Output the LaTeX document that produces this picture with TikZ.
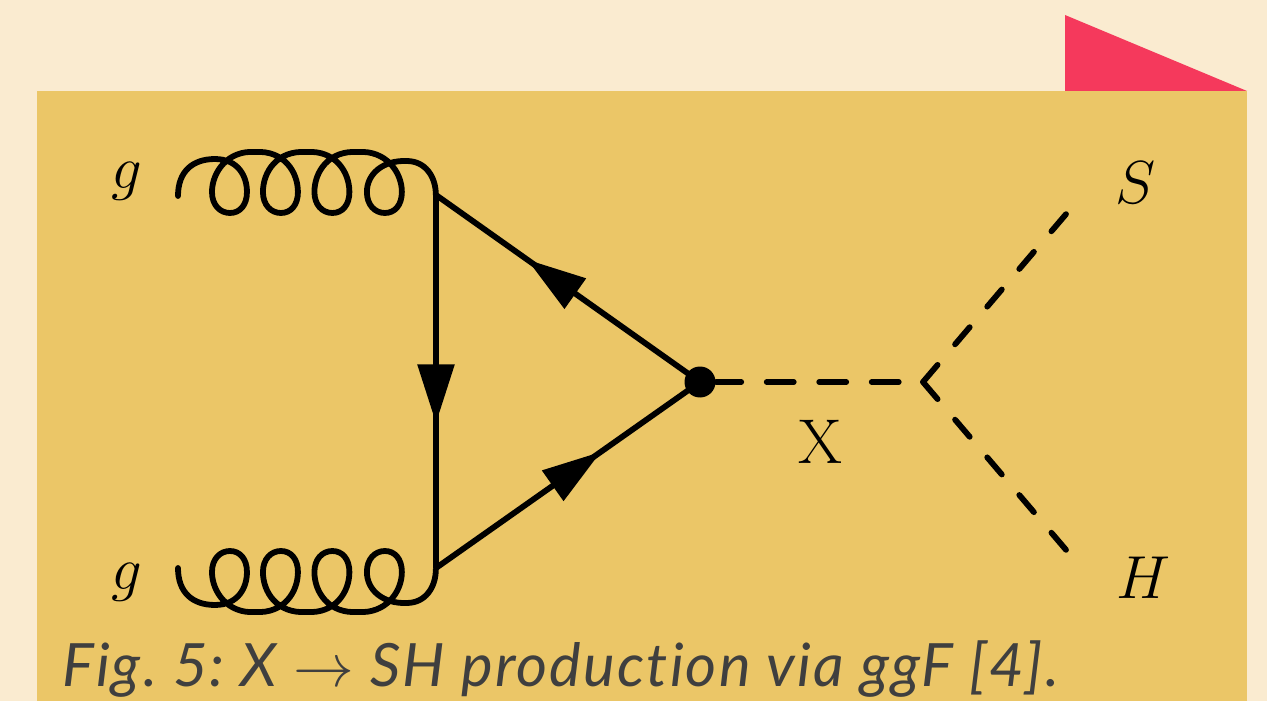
\documentclass[tikz,border=0pt]{standalone}
\usepackage{fontspec}
\setsansfont{Lato}[LetterSpace=3.6,Ligatures=NoCommon]
\usepackage{amsmath}
\usepackage{tikz}
\usetikzlibrary{arrows.meta,decorations.markings}
\definecolor{pagecream}{HTML}{FAEBD0}
\definecolor{panelgold}{HTML}{EBC667}
\definecolor{flagred}{HTML}{F5395C}
\definecolor{captiongray}{HTML}{3F3F3F}

% one gluon line, drawn from its outer end, sign flips it
\newcommand{\gluonline}[2]{%
    \begin{scope}[shift={(#1)},x=0.01cm,y=0.01cm,yscale=#2]
        \draw[gluon] (0,0) .. controls (0,25) and (15,37) .. (37,37)
            .. controls (60,37) and (69,20) .. (69,4)
            .. controls (69,-9) and (62,-17) .. (52,-17)
            .. controls (42,-17) and (34,-9) .. (34,4)
            .. controls (34,24) and (50,46) .. (77,44)
            foreach \i in {0,1} {
                .. controls ({106+51.5*\i},46) and ({120+51.5*\i},24) .. ({120+51.5*\i},4)
                .. controls ({120+51.5*\i},-9) and ({113+51.5*\i},-17) .. ({103+51.5*\i},-17)
                .. controls ({93+51.5*\i},-17) and ({85+51.5*\i},-9) .. ({85+51.5*\i},4)
                .. controls ({85+51.5*\i},24) and ({99+51.5*\i},46) .. ({128.5+51.5*\i},44)
            }
            .. controls (208,46) and (224,24) .. (224,4)
            .. controls (224,-9) and (217,-17) .. (207,-17)
            .. controls (197,-17) and (189,-9) .. (189,4)
            .. controls (189,22) and (205,36) .. (229,35)
            .. controls (247,35) and (258,20) .. (258,1);
    \end{scope}%
}

\begin{document}
\begin{tikzpicture}[
    >=Latex,
    gluon/.style={line width=0.058cm, line cap=round, line join=round},
    fermion/.style={
        line width=0.058cm,
        postaction={decorate},
        decoration={markings,
            mark=at position #1 with {\arrow{Triangle[length=0.59cm,width=0.36cm]}}}
    },
    scalar/.style={line width=0.058cm, line cap=round},
    leglabel/.style={font=\fontsize{18}{20}\selectfont, inner sep=0pt},
    caption/.style={font=\fontsize{17}{20}\selectfont\sffamily\itshape\frenchspacing,
        text=captiongray, anchor=base west, inner sep=0pt}
]
\useasboundingbox (0,0) rectangle (12.67,7.01);

% background and panel
\fill[pagecream] (0,0) rectangle (12.67,7.01);
\fill[flagred] (10.65,6.86) -- (10.65,6.10) -- (12.47,6.10) -- cycle;
\fill[panelgold] (0.37,0) rectangle (12.47,6.10);

% vertices and line ends
\coordinate (gtop) at (1.78,5.05);
\coordinate (gbot) at (1.78,1.33);
\coordinate (vtop) at (4.36,5.06);
\coordinate (vbot) at (4.36,1.33);
\coordinate (vmid) at (7.00,3.19);
\coordinate (vsplit) at (9.23,3.19);
\coordinate (send) at (10.67,4.88);
\coordinate (hend) at (10.67,1.50);

% gluons
\gluonline{gtop}{1}
\gluonline{gbot}{-1}

% quark triangle
\draw[fermion=0.612] (vtop) -- (vbot);
\draw[fermion=0.625] (vbot) -- (vmid);
\draw[fermion=0.655] (vmid) -- (vtop);
\node[circle, fill=black, minimum size=0.31cm, inner sep=0pt] (blob) at (vmid) {};

% scalars
\draw[scalar, dash pattern=on 0.27cm off 0.255cm, dash phase=0.02cm] (blob.east) -- (vsplit);
\draw[scalar, dash pattern=on 0.225cm off 0.27cm] (vsplit) -- (send);
\draw[scalar, dash pattern=on 0.225cm off 0.27cm] (vsplit) -- (hend);

% labels
\node[leglabel] (gtoplabel) at (1.27,5.20) {$g$};
\node[leglabel] (gbotlabel) at (1.27,1.19) {$g$};
\node[leglabel] (xlabel) at (8.20,2.59) {X};
\node[leglabel] (slabel) at (11.36,5.18) {$S$};
\node[leglabel] (hlabel) at (11.43,1.23) {$H$};

% caption
\node[caption] (figcaption) at (0.62,0.15) {Fig. 5: X $\rightarrow$ SH production via ggF [4].};
\end{tikzpicture}
\end{document}
